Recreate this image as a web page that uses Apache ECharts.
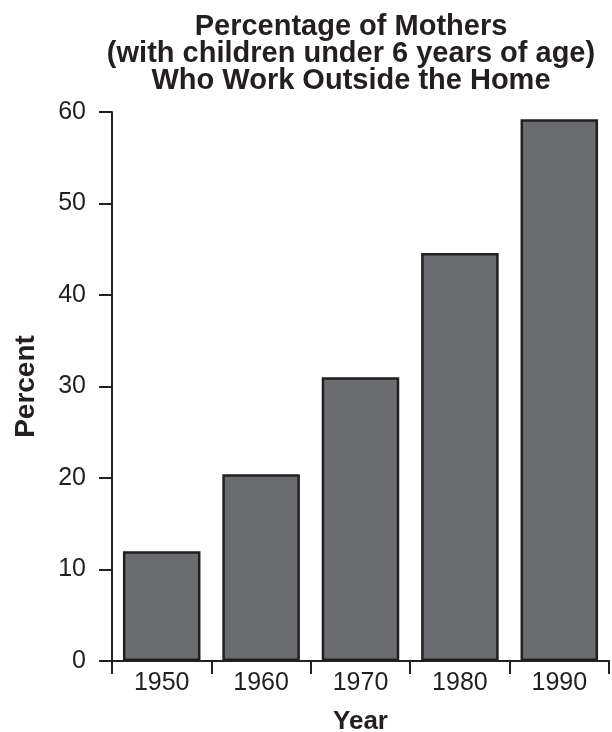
<!DOCTYPE html>
<html>
<head>
<meta charset="utf-8">
<script src="https://cdn.jsdelivr.net/npm/echarts@6/dist/echarts.min.js"></script>
<style>
html,body{margin:0;padding:0;background:#fff;}
#chart{width:612px;height:732px;}
</style>
</head>
<body>
<div id="chart"></div>
<script>
var titleLines = ['Percentage of Mothers', '(with children under 6 years of age)', 'Who Work Outside the Home'];
var years = ['1950', '1960', '1970', '1980', '1990'];
var percent = [12.0, 20.4, 31.0, 44.6, 59.2];
var yTicks = [0, 10, 20, 30, 40, 50, 60];

var ink = '#231f20';
var font = 'Liberation Sans, Arial, Helvetica, sans-serif';
var chart = echarts.init(document.getElementById('chart'), null, {renderer: 'canvas'});
chart.setOption({
  backgroundColor: '#ffffff',
  animation: false,
  title: {
    text: titleLines.join('\n'),
    left: 346,
    top: 8,
    textAlign: 'center',
    textStyle: {fontFamily: font, fontWeight: 'bold', fontSize: 29, lineHeight: 27, color: ink}
  },
  grid: {left: 112, right: 3, top: 112, bottom: 71, containLabel: false, outerBoundsMode: 'none'},
  xAxis: {
    type: 'category',
    data: years,
    name: 'Year',
    nameLocation: 'middle',
    nameGap: 48,
    nameTextStyle: {fontFamily: font, fontWeight: 'bold', fontSize: 26, color: ink},
    axisLine: {show: true, lineStyle: {color: ink, width: 2}},
    axisTick: {show: true, length: 13, alignWithLabel: false, lineStyle: {color: ink, width: 2}},
    axisLabel: {fontFamily: font, fontSize: 25, color: ink, margin: 10},
    splitLine: {show: false}
  },
  yAxis: {
    type: 'value',
    min: yTicks[0],
    max: yTicks[yTicks.length - 1],
    interval: 10,
    name: 'Percent',
    nameLocation: 'middle',
    nameGap: 72,
    nameRotate: 90,
    nameTextStyle: {fontFamily: font, fontWeight: 'bold', fontSize: 28, color: ink},
    axisLine: {show: true, lineStyle: {color: ink, width: 2}},
    axisTick: {show: true, length: 13, lineStyle: {color: ink, width: 2}},
    axisLabel: {fontFamily: font, fontSize: 25, color: ink, margin: 26},
    splitLine: {show: false}
  },
  series: [{
    type: 'bar',
    data: percent,
    barCategoryGap: '22%',
    itemStyle: {color: '#6b6c70', borderColor: ink, borderWidth: 2.5}
  }]
});
</script>
</body>
</html>
